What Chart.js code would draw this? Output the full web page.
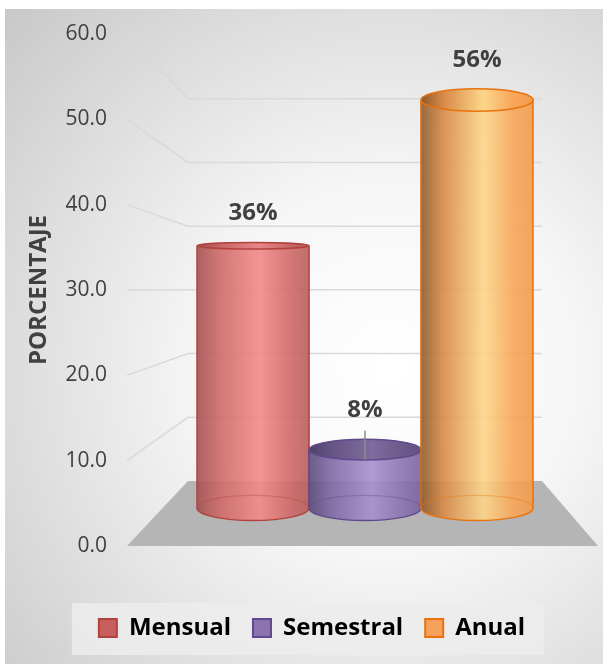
<!DOCTYPE html>
<html>
<head>
<meta charset="utf-8">
<script src="https://cdn.jsdelivr.net/npm/chart.js@4.4.1/dist/chart.umd.min.js"></script>
<style>
  html, body { margin: 0; padding: 0; background: #fff; }
  canvas { display: block; }
</style>
</head>
<body>
<canvas id="chart" width="603" height="664"></canvas>
<script>
// data
const categories = ["Mensual", "Semestral", "Anual"];
const values = [36, 8, 56];
const valueLabels = ["36%", "8%", "56%"];
const axisMin = 0;
const axisMax = 60;
const axisStep = 10;
const axisTitle = "PORCENTAJE";

// look of each cylinder
const looks = [
  { stops: ["#a35251", "#cd6a68", "#f38a88", "#d06b69", "#b95e5c"], border: "#b3423f", legend: "#c65f5d", topShade: 0.05 },
  { stops: ["#5b4b7b", "#7f6aa6", "#a890cf", "#8b74b1", "#7a64a0"], border: "#5f4b8b", legend: "#8c73b0", topShade: 0.38 },
  { stops: ["#8c5b2c", "#d98a48", "#fcd68a", "#f8a65a", "#f39b4b"], border: "#e8720c", legend: "#f7a25a", topShade: 0.0 }
];
const stopPos = [0, 0.2, 0.56, 0.82, 1];
const bodyAlpha = 0.9;
const labelLift = [33, 40, 40];
const leaderLine = [false, true, false];
const font = "'Open Sans', 'DejaVu Sans', sans-serif";
const textColor = "#404040";

function rgba(hex, a) {
  const n = parseInt(hex.slice(1), 16);
  return `rgba(${(n >> 16) & 255},${(n >> 8) & 255},${n & 255},${a})`;
}

function bodyGradient(ctx, i, x0, x1, alpha) {
  const g = ctx.createLinearGradient(x0, 0, x1, 0);
  looks[i].stops.forEach((c, k) => g.addColorStop(stopPos[k], rgba(c, alpha)));
  return g;
}

// ellipse flattening follows the distance from eye level
function ellipseRy(y) {
  const eye = 250;
  return y < eye ? 3 + (eye - y) * 0.055 : 3 + (y - eye) * 0.037;
}

const backgroundPlugin = {
  id: "backgroundPlugin",
  beforeDraw(chart) {
    const { ctx, width, height } = chart;
    ctx.save();
    ctx.fillStyle = "#ffffff";
    ctx.fillRect(0, 0, width, height);
    const g = ctx.createRadialGradient(390, 370, 10, 390, 370, 520);
    g.addColorStop(0, "#ffffff");
    g.addColorStop(0.35, "#f6f6f6");
    g.addColorStop(1, "#c9c9c9");
    ctx.fillStyle = g;
    ctx.fillRect(5, 9, width - 5, height - 9);

    // legend panel
    const boxes = chart.legend && chart.legend.legendHitBoxes;
    if (boxes && boxes.length) {
      const first = boxes[0];
      const last = boxes[boxes.length - 1];
      ctx.fillStyle = "rgba(236,236,236,0.85)";
      ctx.fillRect(first.left - 27, first.top - 13, last.left + last.width + 19 - (first.left - 27), 52);
    }
    ctx.restore();
  }
};

// perspective walls: gridlines and floor, positioned from the value axis
const wallPlugin = {
  id: "wallPlugin",
  beforeDatasetsDraw(chart) {
    const { ctx } = chart;
    const y = chart.scales.y;
    const bottom = y.getPixelForValue(axisMin);
    const sideX = 127, backL = 188, backR = 542, frontR = 598;
    const depth = 0.7467;
    const backBase = bottom - 65;
    const backY = (v) => backBase - (bottom - y.getPixelForValue(v)) * depth;

    ctx.save();
    ctx.strokeStyle = "#d9d9d9";
    ctx.lineWidth = 1.5;
    for (let v = axisMin + axisStep; v <= axisMax; v += axisStep) {
      ctx.beginPath();
      ctx.moveTo(sideX, y.getPixelForValue(v));
      ctx.lineTo(backL, backY(v));
      ctx.lineTo(backR, backY(v));
      ctx.stroke();
    }
    ctx.fillStyle = "#b5b5b5";
    ctx.beginPath();
    ctx.moveTo(sideX, bottom);
    ctx.lineTo(frontR, bottom);
    ctx.lineTo(backR, backBase);
    ctx.lineTo(backL, backBase);
    ctx.closePath();
    ctx.fill();
    ctx.restore();
  }
};

// caps, edges and labels of the cylinders
const cylinderPlugin = {
  id: "cylinderPlugin",
  afterDatasetsDraw(chart) {
    const { ctx } = chart;
    const meta = chart.getDatasetMeta(0);
    meta.data.forEach((bar, i) => {
      const look = looks[i];
      const cx = bar.x, r = bar.width / 2;
      const top = bar.y, base = bar.base;
      const ryB = ellipseRy(base), ryT = ellipseRy(top);
      ctx.save();

      // lower half of bottom ellipse
      ctx.fillStyle = bodyGradient(ctx, i, cx - r, cx + r, bodyAlpha);
      ctx.beginPath();
      ctx.ellipse(cx, base, r, ryB, 0, 0, Math.PI);
      ctx.closePath();
      ctx.fill();

      // hidden back rim of the base, seen through
      ctx.strokeStyle = rgba(look.border, 0.35);
      ctx.lineWidth = 1.2;
      ctx.beginPath();
      ctx.ellipse(cx, base, r, ryB, 0, Math.PI, 2 * Math.PI);
      ctx.stroke();

      // front rim and sides
      ctx.strokeStyle = look.border;
      ctx.lineWidth = 1.5;
      ctx.beginPath();
      ctx.ellipse(cx, base, r, ryB, 0, 0, Math.PI);
      ctx.stroke();
      ctx.beginPath();
      ctx.moveTo(cx - r, top);
      ctx.lineTo(cx - r, base);
      ctx.moveTo(cx + r, top);
      ctx.lineTo(cx + r, base);
      ctx.stroke();

      // top cap
      ctx.fillStyle = bodyGradient(ctx, i, cx - r, cx + r, 1);
      ctx.beginPath();
      ctx.ellipse(cx, top, r, ryT, 0, 0, 2 * Math.PI);
      ctx.fill();
      if (look.topShade > 0) {
        ctx.fillStyle = `rgba(60,50,80,${look.topShade})`;
        ctx.fill();
      }
      ctx.stroke();

      // value label
      const ly = top - labelLift[i];
      ctx.fillStyle = textColor;
      ctx.font = `bold 24px ${font}`;
      ctx.textAlign = "center";
      ctx.textBaseline = "middle";
      ctx.fillText(valueLabels[i], cx, ly);
      if (leaderLine[i]) {
        ctx.strokeStyle = "#8a8a8a";
        ctx.lineWidth = 1.5;
        ctx.beginPath();
        ctx.moveTo(cx, ly + 21);
        ctx.lineTo(cx, top + 10);
        ctx.stroke();
      }
      ctx.restore();
    });
  }
};

const ctx = document.getElementById("chart").getContext("2d");

new Chart(ctx, {
  type: "bar",
  data: {
    labels: categories,
    datasets: [
      {
        data: values,
        yAxisID: "y2",
        barPercentage: 1,
        categoryPercentage: 1,
        borderWidth: 0,
        backgroundColor: (c) => {
          const x = c.chart.scales.x;
          if (c.type !== "data" || !x || !x.width) return looks[c.dataIndex || 0].legend;
          const w = x.width / categories.length;
          const cx = x.getPixelForValue(c.dataIndex);
          return bodyGradient(c.chart.ctx, c.dataIndex, cx - w / 2, cx + w / 2, bodyAlpha);
        }
      }
    ]
  },
  options: {
    responsive: false,
    animation: false,
    devicePixelRatio: 1,
    events: [],
    layout: { padding: { top: 34, left: 21, right: 0, bottom: 14 } },
    plugins: {
      tooltip: { enabled: false },
      legend: {
        position: "bottom",
        labels: {
          boxWidth: 18,
          boxHeight: 18,
          padding: 22,
          color: textColor,
          font: { family: font, size: 24, weight: "bold" },
          generateLabels: () => categories.map((name, i) => ({
            text: name,
            fillStyle: looks[i].legend,
            strokeStyle: looks[i].border,
            lineWidth: 2,
            hidden: false,
            index: i
          }))
        }
      }
    },
    scales: {
      x: {
        grid: { display: false, drawTicks: false },
        border: { display: false },
        ticks: { display: false },
        afterFit: (s) => { s.height = 48; }
      },
      y: {
        position: "left",
        weight: 1,
        min: axisMin,
        max: axisMax,
        grid: { display: false, drawTicks: false },
        border: { display: false },
        ticks: {
          stepSize: axisStep,
          padding: 8,
          color: textColor,
          font: { family: font, size: 21 },
          callback: (v) => v.toFixed(1)
        },
        title: {
          display: true,
          text: axisTitle,
          color: textColor,
          font: { family: font, size: 24, weight: "bold" },
          padding: 4
        },
        afterFit: (s) => { s.width = 94; }
      },
      // empty band between the value labels and the first cylinder
      gap: {
        type: "linear",
        position: "left",
        weight: 0,
        grid: { display: false, drawTicks: false },
        border: { display: false },
        ticks: { display: false },
        afterFit: (s) => { s.width = 82; }
      },
      y2: {
        position: "right",
        min: -5.216,
        max: 65.06,
        grid: { display: false, drawTicks: false },
        border: { display: false },
        ticks: { display: false },
        afterFit: (s) => { s.width = 70; }
      }
    }
  },
  plugins: [backgroundPlugin, wallPlugin, cylinderPlugin]
});
</script>
</body>
</html>
